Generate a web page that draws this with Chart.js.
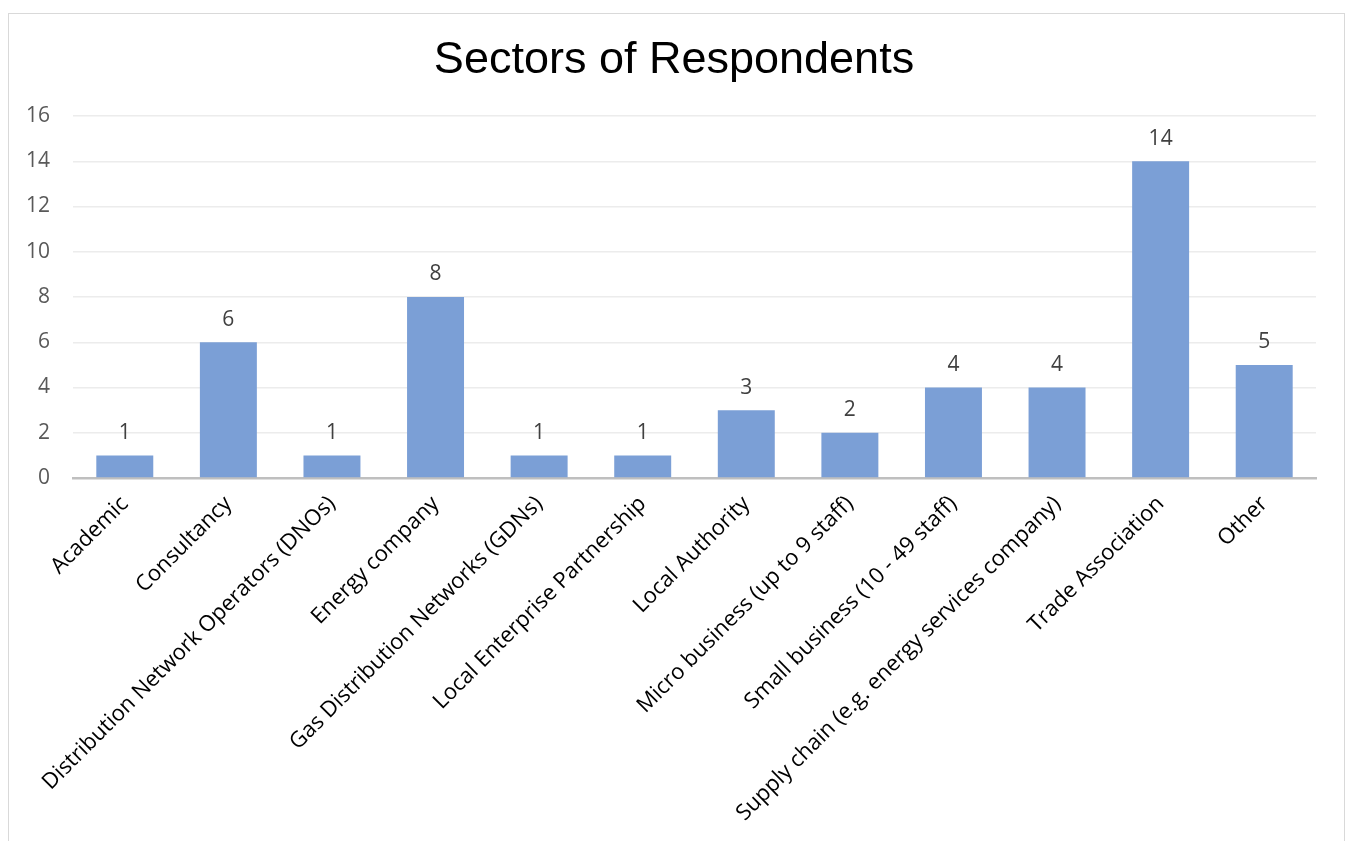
<!DOCTYPE html>
<html>
<head>
<meta charset="utf-8">
<script src="https://cdn.jsdelivr.net/npm/chart.js@4/dist/chart.umd.min.js"></script>
<style>
  html, body { margin: 0; padding: 0; background: #fff; overflow: hidden; }
  #frame { position: absolute; left: 8px; top: 13px; width: 1335px; height: 900px; border: 1.5px solid #d9d9d9; }
  #wrap { position: absolute; left: 0; top: 0; width: 1348px; height: 841px; }
</style>
</head>
<body>
<div id="frame"></div>
<div id="wrap"><canvas id="chart" width="1348" height="841"></canvas></div>
<script>
const categories = [
  "Academic",
  "Consultancy",
  "Distribution Network Operators (DNOs)",
  "Energy company",
  "Gas Distribution Networks (GDNs)",
  "Local Enterprise Partnership",
  "Local Authority",
  "Micro business (up to 9 staff)",
  "Small business (10 - 49 staff)",
  "Supply chain (e.g. energy services company)",
  "Trade Association",
  "Other"
];
const respondents = [1, 6, 1, 8, 1, 1, 3, 2, 4, 4, 14, 5];
const yTicks = [0, 2, 4, 6, 8, 10, 12, 14, 16];

// value labels above each bar
const barLabels = {
  id: "barLabels",
  afterDatasetsDraw(chart) {
    const ctx = chart.ctx;
    const meta = chart.getDatasetMeta(0);
    ctx.save();
    ctx.font = "21px 'Open Sans'";
    ctx.fillStyle = "#404040";
    ctx.textAlign = "center";
    ctx.textBaseline = "bottom";
    meta.data.forEach((bar, i) => {
      ctx.fillText(String(respondents[i]), bar.x, bar.y - 12);
    });
    ctx.restore();
  }
};

new Chart(document.getElementById("chart").getContext("2d"), {
  type: "bar",
  data: {
    labels: categories,
    datasets: [{
      label: "Respondents",
      data: respondents,
      backgroundColor: "#7b9fd6",
      borderWidth: 0,
      barPercentage: 0.55,
      categoryPercentage: 1
    }]
  },
  options: {
    responsive: false,
    animation: false,
    layout: { padding: { top: 13, left: 8, right: 8, bottom: 0 } },
    plugins: {
      legend: { display: false },
      tooltip: { enabled: false },
      title: {
        display: true,
        text: "Sectors of Respondents",
        color: "#000",
        font: { family: "'Liberation Sans', Arial", size: 45, weight: "normal" },
        padding: { top: 21, bottom: 28 }
      }
    },
    scales: {
      x: {
        grid: { display: false, drawTicks: false },
        border: { color: "#bfbfbf", width: 2.5 },
        ticks: {
          autoSkip: false,
          maxRotation: 45,
          minRotation: 45,
          padding: 13,
          color: "#000",
          font: { family: "'Open Sans'", size: 22 }
        },
        afterFit(scale) { scale.height = 841 - 478; }
      },
      y: {
        min: 0,
        max: 16,
        afterBuildTicks(scale) { scale.ticks = yTicks.map(v => ({ value: v })); },
        grid: { color: "#ececec", lineWidth: 1.5, drawTicks: false },
        border: { display: false },
        ticks: {
          padding: 23,
          color: "#595959",
          font: { family: "'Open Sans'", size: 21 }
        },
        afterFit(scale) { scale.width = 65; }
      },
      // empty right-hand gutter so the title stays centred in the frame
      yRight: {
        position: "right",
        grid: { display: false, drawTicks: false },
        border: { display: false },
        ticks: { display: false },
        afterFit(scale) { scale.width = 24; }
      }
    }
  },
  plugins: [barLabels]
});
</script>
</body>
</html>
